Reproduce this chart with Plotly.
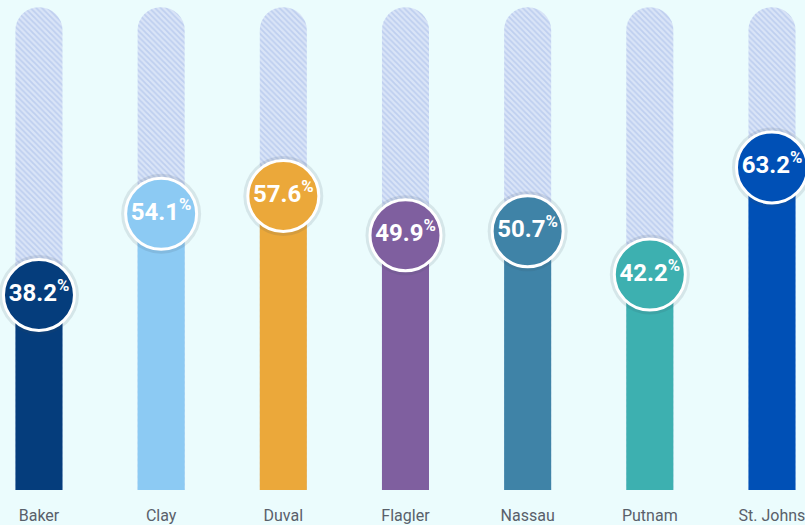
import plotly.graph_objects as go

categories = ["Baker", "Clay", "Duval", "Flagler", "Nassau", "Putnam", "St. Johns"]
values = [38.2, 54.1, 57.6, 49.9, 50.7, 42.2, 63.2]
colors = ["#053d7c", "#8ccaf3", "#eba83a", "#7f5f9f", "#3f83a7", "#3db0b0", "#0050b6"]
track_value = 94.6

x = list(range(len(categories)))
labels = [f"<b>{v:.1f}<sup>%</sup></b>" for v in values]

fig = go.Figure()

# hatched background track
fig.add_trace(go.Bar(
    x=x, y=[track_value] * len(x), width=0.385,
    marker=dict(
        color="#d3dff5",
        line=dict(width=0),
        cornerradius=24,
        pattern=dict(shape="\\", fgcolor="#a3b9e8", bgcolor="#d9e4f7", size=4, solidity=0.45),
    ),
    hoverinfo="skip", showlegend=False,
))

# value bars
fig.add_trace(go.Bar(
    x=x, y=values, width=0.385,
    marker=dict(color=colors, line=dict(width=0)),
    showlegend=False,
))

# shadow under circles
fig.add_trace(go.Scatter(
    x=x, y=values, mode="markers",
    marker=dict(size=80, color="rgba(60,70,90,0.12)", line=dict(width=0)),
    hoverinfo="skip", showlegend=False, cliponaxis=False,
))

# circles with labels
fig.add_trace(go.Scatter(
    x=x, y=values, mode="markers+text",
    marker=dict(size=71, color=colors, line=dict(width=3, color="white")),
    text=labels, textposition="middle center",
    textfont=dict(family="Roboto, Arial, sans-serif", size=24, color="white"),
    showlegend=False, cliponaxis=False,
))

fig.update_layout(
    width=805, height=525,
    margin=dict(l=0, r=0, t=0, b=33),
    paper_bgcolor="#ebfcfd", plot_bgcolor="#ebfcfd",
    barmode="overlay",
    xaxis=dict(
        range=[-0.319, 6.262], tickvals=x, ticktext=categories,
        showgrid=False, zeroline=False, showline=False,
        tickfont=dict(family="Roboto, Arial, sans-serif", size=16, color="#59606a"),
        ticks="", ticklabelstandoff=14, ticklabeloverflow="allow", fixedrange=True,
    ),
    yaxis=dict(
        range=[0, 96], visible=False, showgrid=False, zeroline=False, fixedrange=True,
    ),
)

fig.write_html(
    "out.html",
    config={"displayModeBar": False},
    post_script="document.body.style.margin='0';document.body.style.background='#ebfcfd';document.body.style.overflow='hidden';",
)
